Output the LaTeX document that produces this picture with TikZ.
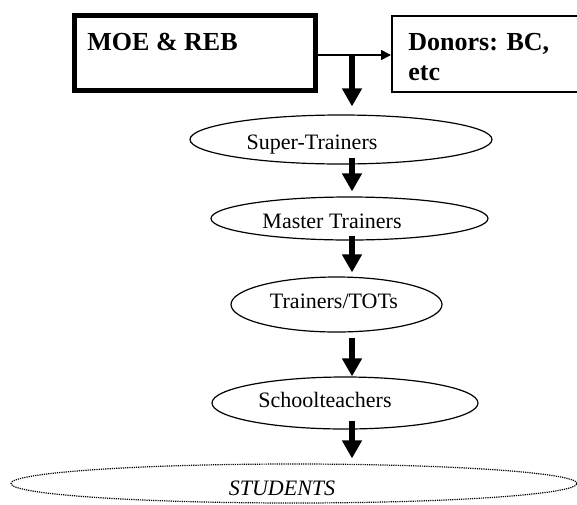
\documentclass[tikz,border=0pt]{standalone}
\usepackage{fontspec}
\setmainfont{Liberation Serif}
\usetikzlibrary{shapes.geometric, arrows.meta}

\begin{document}
\begin{tikzpicture}[
        x = 0.5pt, y = -0.5pt,
        box/.style = {draw, rectangle, inner sep = 0pt},
        lvl/.style = {draw, ellipse, inner sep = 0pt, line width = 0.6pt},
        txt/.style = {inner sep = 0pt, font = \fontsize{11}{13}\selectfont},
        boldtxt/.style = {inner sep = 0pt, align = left, font = \fontsize{13}{14.75}\selectfont\bfseries},
        down/.style = {line width = 3pt, -{Triangle[width = 9.5pt, length = 9pt]}},
        side/.style = {line width = 0.8pt, -{Triangle[width = 5pt, length = 5pt]}}
    ]
                \useasboundingbox (0, 0) rectangle (577, 504);
                \clip (0, 0) rectangle (577, 504);

                % top boxes
                \node [box, line width = 2.5pt, minimum width = 120.5pt, minimum height = 37.5pt] (moe) at (195, 53) {};
                \node [box, line width = 1pt, minimum width = 114pt, minimum height = 38pt] (don) at (506, 54) {};
                \node [boldtxt, anchor = base west] (moelbl) at (87, 50) {MOE \& REB};
                \node [boldtxt, anchor = north west] (donlbl) at (408, 33) {Donors: BC,\\etc};

                % levels
                \node [lvl, minimum width = 151pt, minimum height = 24.5pt] (sup) at (341, 139.5) {};
                \node [txt, anchor = base] (suplbl) at (312, 149) {Super-Trainers};
                \node [lvl, minimum width = 138.5pt, minimum height = 21.5pt] (mas) at (349.5, 218.5) {};
                \node [txt, anchor = base] (maslbl) at (332, 228) {Master Trainers};
                \node [lvl, minimum width = 105.5pt, minimum height = 27.5pt] (tra) at (336.5, 304.5) {};
                \node [txt, anchor = base] (tralbl) at (334, 308) {Trainers/TOTs};
                \node [lvl, minimum width = 133pt, minimum height = 26pt] (sch) at (345, 403) {};
                \node [txt, anchor = base] (schlbl) at (325, 407) {Schoolteachers};
                \node [lvl, dash pattern = on 0.6pt off 0.5pt, minimum width = 283pt, minimum height = 19.5pt] (stu) at (294, 483.5) {};
                \node [txt, anchor = base] (stulbl) at (282, 495) {\itshape STUDENTS};

                \coordinate (spine) at (352, 0);

                \draw [side] ([yshift = -1pt]moe.east) -- ([yshift = -1pt]moe.east -| don.west);
                \draw [down] ([yshift = -1pt]moe.east -| spine) -- ([yshift = 4pt]sup.north -| spine);
                \draw [down] ([yshift = 3.5pt]sup.south -| spine) -- ([yshift = 2.5pt]mas.north -| spine);
                \draw [down] ([yshift = 2.5pt]mas.south -| spine) -- ([yshift = 2pt]tra.north -| spine);
                \draw [down] ([yshift = -2.5pt]tra.south -| spine) -- (sch.north -| spine);
                \draw [down] ([yshift = 4.5pt]sch.south -| spine) -- ([yshift = 2.5pt]stu.north -| spine);
\end{tikzpicture}
\end{document}
